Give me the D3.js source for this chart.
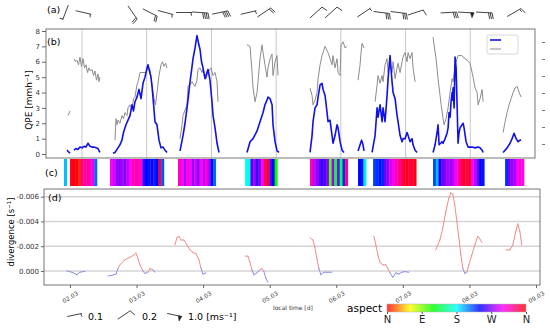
<!DOCTYPE html>
<html>
<head>
<meta charset="utf-8">
<script src="https://cdn.jsdelivr.net/npm/d3@7"></script>
<style>
body { margin: 0; background: #fff; }
text { font-family: "DejaVu Sans", sans-serif; }
</style>
</head>
<body>
<div id="chart"></div>
<script>
var width = 550,
    height = 329;

// (a) wind barbs: time [d], direction [deg], speed [m/s]
var barbTime  = [1.745, 2.023, 2.781, 3.051, 3.291, 3.577, 3.824, 4.133, 4.573, 4.813, 5.617, 5.849, 6.358, 6.629, 6.892, 7.155, 7.665, 7.935, 8.213, 8.677];
var barbDir   = [201, 103, 145, 117, 105, 90, 94, 78, 77, 56, 48, 48, 56, 97, 97, 72, 87, 93, 93, 60];
var barbSpeed = [0.1, 0.1, 0.4, 0.4, 0.1, 0.1, 0.8, 0.8, 0.1, 0.4, 0.2, 0.2, 0.1, 0.6, 0.6, 0.2, 0.6, 1.0, 0.6, 0.3];
var legendSpeed = [0.1, 0.2, 1.0];
var legendDir = [78, 56, 102];
var legendLabel = ["0.1", "0.2", "1.0 [ms\u207B\u00B9]"];

// (b) QPE, segments of [day, mm/h]
var qpeBlue = [
  [[1.768,0.25],[1.791,0.15],[1.815,0.05]],
  [[1.876,0.25],[1.907,0.35],[1.938,0.3],[1.969,0.45],[2.0,0.4],[2.031,0.5],[2.062,0.45],[2.093,0.7],[2.124,0.5],[2.155,0.45],[2.185,0.45],[2.216,0.4],[2.247,0.35],[2.278,0.1]],
  [[2.479,0.05],[2.510,0.1],[2.556,0.4],[2.587,0.6],[2.618,0.9],[2.641,1.4],[2.680,1.9],[2.711,2.2],[2.742,2.5],[2.773,3.2],[2.796,2.8],[2.819,3.4],[2.850,3.7],[2.881,4.2],[2.912,3.6],[2.943,4.6],[2.974,5.0],[3.005,5.6],[3.020,5.8],[3.043,5.4],[3.066,5.0],[3.082,4.4],[3.097,3.7],[3.128,2.1],[3.159,1.9],[3.190,0.9],[3.221,0.4],[3.252,0.45],[3.283,0.25],[3.314,0.1]],
  [[3.515,0.2],[3.561,1.2],[3.592,2.0],[3.623,3.0],[3.646,3.8],[3.669,4.7],[3.692,5.4],[3.716,6.2],[3.747,6.9],[3.777,7.7],[3.801,7.2],[3.824,6.8],[3.847,6.0],[3.870,5.6],[3.901,4.9],[3.924,5.2],[3.947,5.5],[3.978,4.8],[4.009,3.4],[4.025,2.5],[4.056,1.7],[4.087,0.7],[4.117,0.1]],
  [[4.550,0.1],[4.597,0.8],[4.643,1.0],[4.705,1.5],[4.751,2.1],[4.798,2.7],[4.828,3.2],[4.859,3.5],[4.875,3.7],[4.906,3.6],[4.937,3.2],[4.952,1.9],[4.983,0.8],[5.014,0.2],[5.045,0.1]],
  [[5.524,0.1],[5.555,1.2],[5.570,2.1],[5.601,3.0],[5.632,3.2],[5.648,3.7],[5.679,4.5],[5.709,4.6],[5.725,4.2],[5.756,3.8],[5.787,2.7],[5.802,2.1],[5.833,2.2],[5.864,1.2],[5.879,0.7],[5.910,1.2],[5.941,1.9],[5.957,1.7],[5.988,0.8],[6.019,0.25],[6.049,0.1]],
  [[6.266,0.2],[6.297,0.6],[6.320,0.9],[6.343,0.6],[6.358,0.2]],
  [[6.482,0.1],[6.529,1.2],[6.560,3.0],[6.575,2.4],[6.606,3.2],[6.637,2.1],[6.652,3.0],[6.683,2.1],[6.714,3.8],[6.730,4.9],[6.760,6.4],[6.791,4.7],[6.807,4.0],[6.838,3.6],[6.869,2.5],[6.884,2.1],[6.915,1.2],[6.946,0.8],[6.961,1.0],[6.992,1.0],[7.023,1.4],[7.039,1.2],[7.070,0.8],[7.100,1.0],[7.116,0.6],[7.147,0.25],[7.178,0.1]],
  [[7.425,0.1],[7.456,0.6],[7.487,1.4],[7.502,1.9],[7.518,0.6],[7.564,0.8],[7.580,0.7],[7.611,1.0],[7.641,1.35],[7.657,1.7],[7.672,2.7],[7.688,2.4],[7.703,3.4],[7.719,4.0],[7.726,3.5],[7.734,4.3],[7.750,3.0],[7.765,6.3],[7.781,5.6],[7.796,3.2],[7.811,0.7],[7.827,1.4],[7.842,1.7],[7.873,1.9],[7.889,2.0],[7.904,1.7],[7.935,0.8],[7.966,0.45],[8.028,0.45],[8.074,0.4],[8.121,0.45],[8.151,0.4],[8.182,0.25],[8.198,0.1]],
  [[8.507,0.1],[8.569,0.4],[8.615,0.7],[8.646,1.0],[8.677,1.35],[8.708,1.0],[8.739,0.8],[8.770,0.9],[8.785,0.9]]
];

var qpeGray = [
  [[1.784,2.5],[1.815,2.8]],
  [[1.876,6.2],[1.900,6.0],[1.923,6.1],[1.946,5.8],[1.969,6.3],[1.992,5.7],[2.015,6.2],[2.039,5.6],[2.062,5.8],[2.085,5.3],[2.108,5.6],[2.131,5.4],[2.155,5.5],[2.178,5.1],[2.201,5.4],[2.224,4.8],[2.247,5.2],[2.263,4.7],[2.278,5.0]],
  [[2.510,0.9],[2.526,2.3],[2.541,1.9],[2.556,2.2],[2.587,2.0],[2.618,2.5],[2.641,2.3],[2.665,2.7],[2.696,2.5],[2.711,3.0],[2.742,3.2],[2.773,2.9],[2.796,3.6],[2.819,3.7],[2.850,4.5],[2.866,4.7],[2.896,5.3],[2.943,5.3],[2.989,5.3],[3.020,5.6],[3.051,5.5],[3.082,4.5],[3.113,3.6],[3.136,3.2],[3.159,4.0],[3.190,5.1],[3.221,5.8],[3.244,6.0],[3.267,5.7],[3.291,5.9],[3.314,5.6]],
  [[3.515,1.0],[3.546,1.9],[3.561,2.5],[3.623,3.2],[3.638,4.4],[3.669,4.5],[3.700,4.7],[3.747,4.4],[3.777,4.8],[3.793,5.5],[3.824,5.6],[3.855,5.3],[3.870,5.5],[3.917,4.9],[3.947,5.3],[3.994,5.6],[4.025,5.1],[4.056,5.3],[4.087,4.7],[4.102,3.4]],
  [[4.550,7.1],[4.597,7.0],[4.628,5.3],[4.643,4.3],[4.674,3.4],[4.705,4.0],[4.720,4.7],[4.751,6.2],[4.782,7.1],[4.798,6.6],[4.828,5.8],[4.859,5.0],[4.875,5.6],[4.906,6.2],[4.937,6.5],[4.952,5.1],[4.983,6.0],[5.014,6.4],[5.029,5.1]],
  [[5.524,4.3],[5.555,3.8],[5.570,3.2],[5.601,3.5],[5.632,4.0],[5.648,4.9],[5.679,5.8],[5.709,6.4],[5.756,7.0],[5.802,6.6],[5.833,6.2],[5.864,5.8],[5.879,6.4],[5.910,5.6],[5.941,6.2],[5.957,5.3],[5.988,5.1],[6.003,7.1],[6.034,7.3],[6.065,6.9],[6.096,7.0]],
  [[6.266,4.8],[6.297,5.8],[6.312,6.6],[6.328,7.2],[6.358,6.9]],
  [[6.529,3.4],[6.560,4.5],[6.575,5.1],[6.606,4.6],[6.637,5.1],[6.652,4.7],[6.683,5.8],[6.714,6.2],[6.730,5.3],[6.760,5.8],[6.791,5.3],[6.807,6.0],[6.838,4.9],[6.869,5.6],[6.884,5.9],[6.915,5.3],[6.946,6.0],[6.961,6.3],[6.992,6.6],[7.023,6.0],[7.039,6.6],[7.070,6.2],[7.100,6.6],[7.116,5.6],[7.147,4.7]],
  [[7.425,7.6],[7.440,7.1],[7.471,6.2],[7.502,4.9],[7.533,3.8],[7.549,3.2],[7.580,2.3],[7.595,1.9],[7.626,2.3],[7.657,3.0],[7.688,4.0],[7.719,4.9],[7.734,4.7],[7.765,5.8],[7.811,6.4],[7.873,6.4],[7.889,6.3],[7.951,6.1],[7.997,5.9],[8.028,5.3],[8.043,5.0],[8.074,4.3],[8.105,4.0],[8.121,3.2],[8.151,3.6],[8.182,4.2],[8.198,3.4]],
  [[8.507,1.4],[8.538,2.1],[8.569,2.7],[8.600,3.2],[8.631,3.6],[8.662,4.0],[8.693,4.3],[8.724,4.4],[8.755,4.0],[8.785,3.7]]
];
var dayLines = [2, 3, 4, 5, 6, 7, 8];
var qpeTicks = [0, 1, 2, 3, 4, 5, 6, 7, 8];

// (c) aspect [deg], hourly bins starting at aspectStart
var aspectStart = [1.722, 1.815, 2.433, 3.484, 4.519, 5.524, 6.266, 6.498, 7.425, 8.538];
var aspectBins = [
  [195],
  [350, 0, 355, 10, 330, 320, 325, 315, 295, 215],
  [300, 290, 275, 270, 280, 272, 285, 300, 315, 320, 318, 310, 250, 240, 235, 245, 232, 240, 350, 220],
  [320, 300, 280, 310, 300, 275, 290, 270, 300, 285, 310, 280, 240, 215],
  [180, 170, 260, 280, 250, 270, 300, 340, 350, 260, 240, 120],
  [320, 285, 275, 265, 250, 260, 270, 100, 275, 130, 270, 140, 230, 330],
  [240, 235, 185],
  [225, 230, 235, 232, 265, 275, 290, 305, 315, 325, 335, 350, 355, 345, 350, 355],
  [225, 195, 245, 265, 270, 280, 275, 285, 300, 320, 340, 350, 345, 355, 300, 285, 270, 240, 235],
  [230, 265, 275, 280, 300, 310, 305]
];
var aspectLabels = ["N", "E", "S", "W", "N"];

// (d) divergence, segments of [day, 1/s]
var divergence = [
  [[1.955,0.0],[2.030,0.0001],[2.105,0.0003],[2.150,0.0001],[2.225,0.00002]],
  [[2.571,0.0004],[2.631,0.00035],[2.691,0.00025],[2.721,-0.0002],[2.751,-0.0005],[2.826,-0.0009],[2.901,-0.0011],[2.961,-0.0013],[2.991,-0.00145],[3.021,-0.001],[3.051,-0.0005],[3.096,0.0],[3.126,0.0002],[3.171,0.0001],[3.201,-0.0002],[3.246,-0.0001],[3.276,0.0001]],
  [[3.577,-0.0021],[3.607,-0.0027],[3.637,-0.0028],[3.667,-0.0025],[3.712,-0.0025],[3.757,-0.0021],[3.802,-0.0017],[3.847,-0.0015],[3.892,-0.0014],[3.937,-0.0009],[3.967,-0.00025],[3.997,0.00025],[4.042,0.00015]],
  [[4.628,-0.0012],[4.673,-0.0012],[4.703,-0.0007],[4.733,-0.0001],[4.763,0.0003],[4.808,0.00015],[4.853,-0.0001],[4.883,-0.0002],[4.913,0.00005],[4.943,0.0006],[4.973,0.0009]],
  [[5.604,-0.0027],[5.649,-0.0025],[5.679,-0.0019],[5.709,-0.001],[5.739,-0.0002],[5.769,0.0003],[5.814,0.0001],[5.859,0.0001],[5.934,0.0001]],
  [[6.565,-0.0028],[6.595,-0.0021],[6.625,-0.0013],[6.655,-0.0007],[6.700,-0.0005],[6.745,-0.0005],[6.775,-0.0002],[6.805,0.00015],[6.850,0.0005],[6.895,0.00015],[6.940,0.00025],[6.985,0.0001],[7.030,0.00005],[7.090,0.0001]],
  [[7.495,-0.0017],[7.556,-0.0025],[7.601,-0.0035],[7.646,-0.0048],[7.691,-0.0059],[7.721,-0.0063],[7.751,-0.0062],[7.781,-0.0053],[7.811,-0.004],[7.841,-0.0027],[7.871,-0.0013],[7.901,-0.0002],[7.931,0.0002],[7.961,0.0001],[7.991,-0.0005],[8.036,-0.0013],[8.081,-0.0021],[8.126,-0.0028],[8.156,-0.0026],[8.186,-0.0023]],
  [[8.547,-0.0017],[8.607,-0.0017],[8.652,-0.0021],[8.697,-0.0032],[8.727,-0.0038],[8.757,-0.0032],[8.787,-0.0021]]
];
var divTicks = [-0.006, -0.004, -0.002, 0];
var dateTicks = [2, 3, 4, 5, 6, 7, 8, 9];

var svg = d3.select("#chart").append("svg")
    .attr("width", width)
    .attr("height", height);

var xB = d3.scaleLinear().domain([1.444, 9.0]).range([46, 535]);
var yB = d3.scaleLinear().domain([-0.26, 8.13]).range([158, 29]);
var xD = d3.scaleLinear().domain([1.61, 9.06]).range([44, 540]);
var yD = d3.scaleLinear().domain([0.00113, -0.00662]).range([285, 189]);
var aspectColor = function(a) { return d3.hsl(a % 360, 1, 0.5).toString(); };

//barb helper
function drawBarb(g, cx, cy, dir, spd, len) {
  var th = (dir - 90) * Math.PI / 180;
  var ux = Math.cos(th), uy = Math.sin(th);
  var px = -uy, py = ux;
  var tx = cx + ux * len / 2, ty = cy + uy * len / 2;
  g.append("line")
      .attr("x1", cx - ux * len / 2).attr("y1", cy - uy * len / 2)
      .attr("x2", tx).attr("y2", ty)
      .attr("stroke", "#444").attr("stroke-width", 1);
  var n = Math.round(spd * 10), pos = 0;
  while (n >= 10) {
    var ax = tx - ux * pos, ay = ty - uy * pos;
    g.append("path")
        .attr("d", "M" + ax + "," + ay +
              "L" + (ax - ux * 1.8 + px * 5) + "," + (ay - uy * 1.8 + py * 5) +
              "L" + (ax - ux * 3.6) + "," + (ay - uy * 3.6) + "Z")
        .attr("fill", "#222").attr("stroke", "#222").attr("stroke-width", 0.5);
    pos += 4.2; n -= 10;
  }
  while (n >= 2) {
    var bx = tx - ux * pos, by = ty - uy * pos;
    g.append("line")
        .attr("x1", bx).attr("y1", by)
        .attr("x2", bx + px * 6 + ux * 1.5).attr("y2", by + py * 6 + uy * 1.5)
        .attr("stroke", "#444").attr("stroke-width", 1);
    pos += 1.8; n -= 2;
  }
  if (n == 1) {
    if (pos == 0) pos = 1.2;
    var sx = tx - ux * pos, sy = ty - uy * pos;
    g.append("line")
        .attr("x1", sx).attr("y1", sy)
        .attr("x2", sx + px * 3.2 + ux * 0.8).attr("y2", sy + py * 3.2 + uy * 0.8)
        .attr("stroke", "#444").attr("stroke-width", 1);
  }
}

//panel (a)
var gA = svg.append("g");
barbTime.forEach(function(t, i) {
  drawBarb(gA, xB(t), 12.5, barbDir[i], barbSpeed[i], 16);
});
svg.append("text").attr("x", 47).attr("y", 13).attr("font-size", "9.5px").text("(a)");

//panel (b)
svg.selectAll(".dayline").data(dayLines).enter().append("line")
    .attr("x1", function(d) { return xB(d); })
    .attr("x2", function(d) { return xB(d); })
    .attr("y1", 29).attr("y2", 158)
    .attr("stroke", "#c8c8c8").attr("stroke-width", 1);

var lineB = d3.line()
    .x(function(d) { return xB(d[0]); })
    .y(function(d) { return yB(d[1]); });

svg.selectAll(".gray").data(qpeGray).enter().append("path")
    .attr("d", lineB)
    .attr("fill", "none")
    .attr("stroke", "#8c8c8c")
    .attr("stroke-width", 1);

svg.selectAll(".blue").data(qpeBlue).enter().append("path")
    .attr("d", lineB)
    .attr("fill", "none")
    .attr("stroke", "#1010ee")
    .attr("stroke-width", 1.6)
    .attr("stroke-linejoin", "round");

svg.append("rect")
    .attr("x", 46).attr("y", 29).attr("width", 489).attr("height", 129)
    .attr("fill", "none").attr("stroke", "#777").attr("stroke-width", 1);

var axB = svg.append("g")
    .attr("transform", "translate(46,0)")
    .call(d3.axisLeft(yB).tickValues(qpeTicks).tickSize(4).tickPadding(2));
axB.select(".domain").remove();
axB.selectAll("line").attr("stroke", "#666");
axB.selectAll("text").attr("font-size", "7px").attr("fill", "#333").attr("font-family", "DejaVu Sans");

//right side ticks, no labels
var yR = d3.scaleLinear().domain([0, 6]).range([144, 42]);
var axR = svg.append("g")
    .attr("transform", "translate(542,0)")
    .call(d3.axisRight(yR).ticks(7).tickSize(3).tickFormat(""));
axR.select(".domain").remove();
axR.selectAll("line").attr("stroke", "#777");

svg.append("text").attr("x", 47).attr("y", 45).attr("font-size", "9.5px").text("(b)");
svg.append("text")
    .attr("transform", "translate(32,100) rotate(-90)")
    .attr("text-anchor", "middle")
    .attr("font-size", "9px")
    .text("QPE [mmh\u207B\u00B9]");

//legend box
svg.append("rect")
    .attr("x", 487).attr("y", 35).attr("width", 31).attr("height", 19)
    .attr("rx", 2).attr("fill", "#fff").attr("stroke", "#d8d8d8");
svg.append("line").attr("x1", 490).attr("x2", 501).attr("y1", 40).attr("y2", 40)
    .attr("stroke", "#1010ee").attr("stroke-width", 1.6);
svg.append("line").attr("x1", 490).attr("x2", 501).attr("y1", 49).attr("y2", 49)
    .attr("stroke", "#8c8c8c").attr("stroke-width", 1);

//panel (c)
var binDays = 1 / 24;
aspectStart.forEach(function(s, k) {
  svg.append("g").selectAll("rect").data(aspectBins[k]).enter().append("rect")
      .attr("x", function(d, i) { return xB(s + i * binDays); })
      .attr("width", xB(binDays) - xB(0) + 0.3)
      .attr("y", 159).attr("height", 27)
      .attr("fill", function(d) { return aspectColor(d); });
});
svg.append("text").attr("x", 45).attr("y", 176).attr("font-size", "9.5px").text("(c)");

//panel (d)
svg.selectAll(".grid").data(divTicks).enter().append("line")
    .attr("x1", 44).attr("x2", 540)
    .attr("y1", function(d) { return yD(d); })
    .attr("y2", function(d) { return yD(d); })
    .attr("stroke", "#d4d4d4").attr("stroke-width", 1.5);

divergence.forEach(function(seg) {
  for (var i = 0; i < seg.length - 1; i++) {
    var m = (seg[i][1] + seg[i + 1][1]) / 2;
    svg.append("line")
        .attr("x1", xD(seg[i][0])).attr("y1", yD(seg[i][1]))
        .attr("x2", xD(seg[i + 1][0])).attr("y2", yD(seg[i + 1][1]))
        .attr("stroke", m < 0 ? "#f28a8a" : "#8c8cf2")
        .attr("stroke-width", 1)
        .attr("stroke-linecap", "round");
  }
});

svg.append("rect")
    .attr("x", 44).attr("y", 189).attr("width", 496).attr("height", 96)
    .attr("fill", "none").attr("stroke", "#777").attr("stroke-width", 1);

var axD = svg.append("g")
    .attr("transform", "translate(44,0)")
    .call(d3.axisLeft(yD).tickValues(divTicks).tickSize(3).tickPadding(2)
      .tickFormat(function(v) { return v.toFixed(3); }));
axD.select(".domain").remove();
axD.selectAll("line").attr("stroke", "#666");
axD.selectAll("text").attr("font-size", "7px").attr("fill", "#333").attr("font-family", "DejaVu Sans");

var axT = svg.append("g")
    .attr("transform", "translate(0,285)")
    .call(d3.axisBottom(xD).tickValues(dateTicks).tickSize(3)
      .tickFormat(function(d) { return d3.format("02d")(d) + ".03"; }));
axT.select(".domain").remove();
axT.selectAll("line").attr("stroke", "#666");
axT.selectAll("text")
    .attr("y", 0).attr("dy", 0)
    .attr("transform", "translate(1,14) rotate(-30)")
    .attr("text-anchor", "middle")
    .attr("font-size", "6px").attr("fill", "#444").attr("font-family", "DejaVu Sans");

svg.append("text").attr("x", 48).attr("y", 201).attr("font-size", "9.5px").text("(d)");
svg.append("text")
    .attr("transform", "translate(14,232) rotate(-90)")
    .attr("text-anchor", "middle")
    .attr("font-size", "8.5px")
    .text("divergence [s\u207B\u00B9]");
svg.append("text").attr("x", 273).attr("y", 310).attr("font-size", "6px").attr("fill", "#333")
    .text("local time [d]");

//barb legend
var legX = [74.5, 124, 174.5], legTextX = [88, 142, 188];
legendSpeed.forEach(function(s, i) {
  drawBarb(svg, legX[i], 315, legendDir[i], s, 15);
  svg.append("text").attr("x", legTextX[i]).attr("y", 320).attr("font-size", "9.5px")
      .text(legendLabel[i]);
});

//aspect colorbar
var grad = svg.append("defs").append("linearGradient").attr("id", "hsv");
d3.range(0, 361, 30).forEach(function(a) {
  grad.append("stop").attr("offset", (a / 360 * 100) + "%").attr("stop-color", aspectColor(a));
});
var xC = d3.scaleLinear().domain([0, 360]).range([387, 526]);
svg.append("rect")
    .attr("x", 387).attr("y", 304).attr("width", 139).attr("height", 8)
    .attr("fill", "url(#hsv)").attr("opacity", 0.8)
    .attr("stroke", "#999").attr("stroke-width", 0.5);
var axC = svg.append("g")
    .attr("transform", "translate(0,312)")
    .call(d3.axisBottom(xC).tickValues([0, 90, 180, 270, 360]).tickSize(2).tickPadding(2)
      .tickFormat(function(d, i) { return aspectLabels[i]; }));
axC.select(".domain").remove();
axC.selectAll("line").attr("stroke", "#555");
axC.selectAll("text").attr("font-size", "10px").attr("fill", "#222").attr("font-family", "DejaVu Sans");
svg.append("text").attr("x", 382).attr("y", 312).attr("text-anchor", "end")
    .attr("font-size", "10.5px").text("aspect");
</script>
</body>
</html>
